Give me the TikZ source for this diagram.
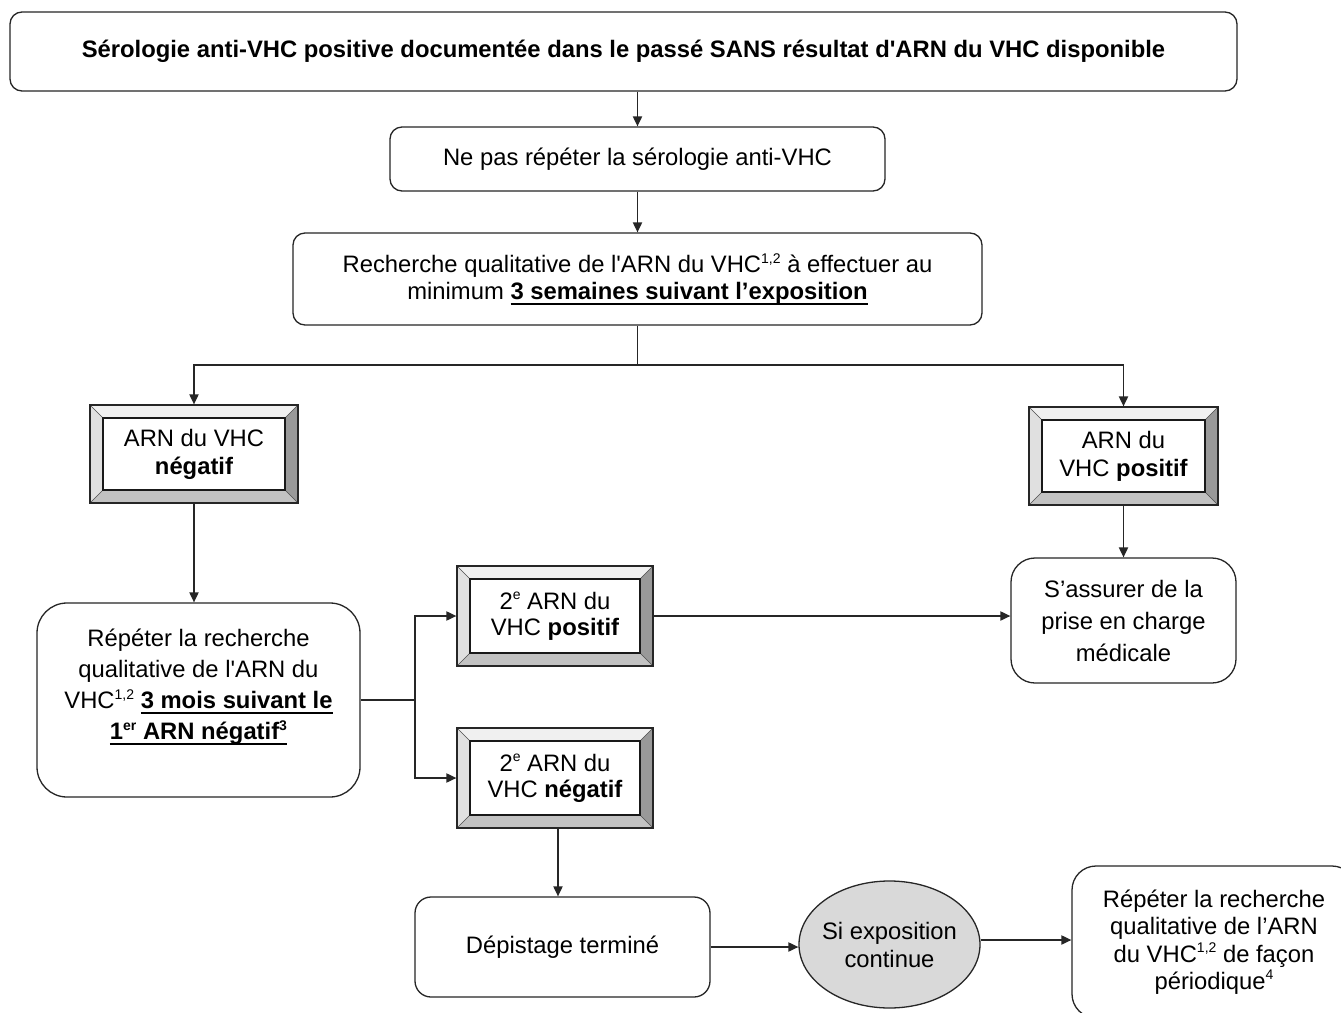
\documentclass[tikz,border=0pt]{standalone}
\usepackage{fontspec}
\setmainfont{Liberation Sans}
\usetikzlibrary{shapes.geometric,arrows.meta}
\newsavebox\myulbox
\newcommand\myul[1]{\sbox\myulbox{#1}\rlap{\rule[-2.4pt]{\wd\myulbox}{0.9pt}}\usebox\myulbox}
\newcommand\sups[1]{\raisebox{0.75ex}{\fontsize{7}{7}\selectfont #1}}
\tikzset{
  base/.style={draw=black!85, line width=0.65pt, fill=white, align=center, inner sep=0pt,
    font=\fontsize{11.9}{15.5}\selectfont},
  rbox/.style={base, rounded corners=#1},
  rbox/.default=6pt,
  arr/.style={draw=black!85, line width=0.7pt, -{Triangle[length=5pt,width=4.6pt]}},
  conn/.style={draw=black!85, line width=0.7pt},
  bevelbox/.style={base, font=\fontsize{11.9}{14}\selectfont,
    path picture={
      \path (path picture bounding box.north west) coordinate (pnw)
            (path picture bounding box.north east) coordinate (pne)
            (path picture bounding box.south east) coordinate (pse)
            (path picture bounding box.south west) coordinate (psw);
      \path ([shift={(6.5pt,-6.5pt)}]pnw) coordinate (inw)
            ([shift={(-6.5pt,-6.5pt)}]pne) coordinate (ine)
            ([shift={(-6.5pt,6.5pt)}]pse) coordinate (ise)
            ([shift={(6.5pt,6.5pt)}]psw) coordinate (isw);
      \fill[black!6] (pnw) -- (pne) -- (ine) -- (inw) -- cycle;
      \fill[black!12] (pnw) -- (psw) -- (isw) -- (inw) -- cycle;
      \fill[black!40] (pne) -- (pse) -- (ise) -- (ine) -- cycle;
      \fill[black!24] (psw) -- (pse) -- (ise) -- (isw) -- cycle;
      \draw[black!70, line width=0.3pt] (pnw) -- (inw) (pne) -- (ine) (pse) -- (ise) (psw) -- (isw);
      \draw[black!90, line width=0.65pt] (inw) rectangle (ise);
    }},
}
\begin{document}
\begin{tikzpicture}[x=0.5pt, y=-0.5pt]
\useasboundingbox (0,0) rectangle (1341,1013);
\clip (0,0) rectangle (1341,1013);
\fill[white] (0,0) rectangle (1341,1013);

\node[rbox, minimum width=613.5pt, minimum height=39.5pt] (top) at (623.5,51.5)
  {\raisebox{3pt}{\textbf{Sérologie anti-VHC positive documentée dans le passé SANS résultat d\textquotesingle ARN du VHC disponible}}};
\node[rbox, minimum width=247.5pt, minimum height=32pt] (b2) at (637.5,159)
  {Ne pas répéter la sérologie anti-VHC};
\node[rbox, minimum width=344.5pt, minimum height=46pt, font=\fontsize{11.9}{13.6}\selectfont] (b3) at (637.5,279)
  {Recherche qualitative de l\textquotesingle ARN du VHC\sups{1,2} à effectuer au\\
   minimum \myul{\textbf{3 semaines suivant l’exposition}}};

\node[bevelbox, minimum width=104pt, minimum height=49pt] (lneg) at (194,454)
  {ARN du VHC\\\textbf{négatif}};
\node[bevelbox, minimum width=94.5pt, minimum height=49pt] (rpos) at (1123.5,456)
  {ARN du\\VHC \textbf{positif}};

\node[rbox=15pt, minimum width=161.5pt, minimum height=97pt] (rep) at (198.5,700)
  {Répéter la recherche\\qualitative de l\textquotesingle ARN du\\VHC\sups{1,2} \myul{\textbf{3 mois suivant le}}\\
   \myul{\textbf{1\sups{er} ARN négatif\sups{3}}}\\~};

\node[bevelbox, minimum width=98pt, minimum height=50pt, font=\fontsize{11.9}{13}\selectfont] (pos2) at (555,616)
  {2\sups{e} ARN du\\VHC \textbf{positif}};
\node[bevelbox, minimum width=98pt, minimum height=50pt, font=\fontsize{11.9}{13}\selectfont] (neg2) at (555,778)
  {2\sups{e} ARN du\\VHC \textbf{négatif}};

\node[rbox=12pt, minimum width=112.5pt, minimum height=62.5pt, font=\fontsize{11.9}{16}\selectfont] (assur) at (1123.5,620.5)
  {S’assurer de la\\prise en charge\\médicale};

\node[rbox=8pt, minimum width=147.5pt, minimum height=50pt] (dep) at (562.5,947)
  {Dépistage terminé};

\node[ellipse, base, inner sep=-3pt, fill=black!15, minimum width=90.5pt, minimum height=63.5pt, font=\fontsize{11.9}{14}\selectfont] (ell) at (889.5,944.5)
  {Si exposition\\continue};

\node[rbox=12pt, minimum width=142pt, minimum height=76pt, font=\fontsize{11.9}{13.7}\selectfont] (last) at (1214,942)
  {Répéter la recherche\\qualitative de l’ARN\\du VHC\sups{1,2} de façon\\périodique\sups{4}};

% connectors
\draw[arr] (top.south -| b2.north) -- (b2.north);
\draw[arr] (b2.south) -- (b3.north);
\coordinate (split) at (637.5,365);
\draw[conn] (b3.south) -- (split);
\draw[arr] (split) -| (lneg.north);
\draw[arr] (split) -| (rpos.north);
\draw[arr] (lneg.south) -- (lneg.south |- rep.north);
\draw[arr] (rpos.south) -- (assur.north);
\coordinate (fork) at (415,700);
\draw[conn] (rep.east) -- (fork);
\draw[arr] (fork) |- (pos2.west);
\draw[arr] (fork) |- (neg2.west);
\draw[arr] (pos2.east) -- (pos2.east -| assur.west);
\draw[arr] ([xshift=1.5pt]neg2.south) -- ([xshift=1.5pt]neg2.south |- dep.north);
\draw[arr] (dep.east) -- (dep.east -| ell.west);
\draw[arr] ([yshift=2.25pt]ell.east) -- ([yshift=2.25pt]ell.east -| last.west);
\end{tikzpicture}
\end{document}
